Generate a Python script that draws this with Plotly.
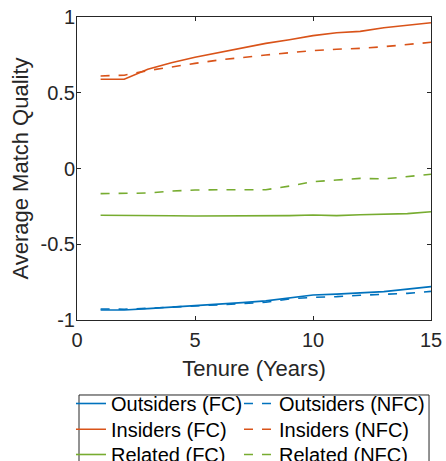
import plotly.graph_objects as go

tenure = list(range(1, 16))

outsiders_fc = [-0.934, -0.934, -0.925, -0.916, -0.905, -0.896, -0.885, -0.874, -0.852, -0.835, -0.829, -0.820, -0.813, -0.796, -0.780]
outsiders_nfc = [-0.927, -0.929, -0.923, -0.916, -0.907, -0.898, -0.892, -0.883, -0.861, -0.850, -0.846, -0.837, -0.833, -0.824, -0.811]
insiders_fc = [0.589, 0.589, 0.655, 0.698, 0.734, 0.764, 0.797, 0.826, 0.850, 0.877, 0.896, 0.905, 0.929, 0.945, 0.962]
insiders_nfc = [0.611, 0.616, 0.646, 0.672, 0.694, 0.716, 0.734, 0.749, 0.764, 0.778, 0.787, 0.793, 0.804, 0.817, 0.833]
related_fc = [-0.309, -0.309, -0.312, -0.312, -0.314, -0.313, -0.315, -0.312, -0.311, -0.307, -0.311, -0.305, -0.302, -0.298, -0.285]
related_nfc = [-0.166, -0.166, -0.162, -0.149, -0.142, -0.140, -0.140, -0.140, -0.116, -0.087, -0.076, -0.065, -0.069, -0.056, -0.038]

x_ticks = [0, 5, 10, 15]
y_ticks = [-1, -0.5, 0, 0.5, 1]
y_ticktext = ["-1", "-0.5", "0", "0.5", "1"]

BLUE = "#0072BD"
ORANGE = "#D95319"
GREEN = "#77AC30"

# (name, values, colour, dash, legend column, legend row)
series = [
    ("Outsiders (FC)", outsiders_fc, BLUE, "solid", 0, 0),
    ("Insiders (FC)", insiders_fc, ORANGE, "solid", 0, 1),
    ("Related (FC)", related_fc, GREEN, "solid", 0, 2),
    ("Outsiders (NFC)", outsiders_nfc, BLUE, "dash", 1, 0),
    ("Insiders (NFC)", insiders_nfc, ORANGE, "dash", 1, 1),
    ("Related (NFC)", related_nfc, GREEN, "dash", 1, 2),
]

axis_color = "#262626"
font_family = "Liberation Sans, Arial, sans-serif"
legend_font = dict(family=font_family, size=20, color="black")

col_x = [-0.017, 0.4576]
row_y = [-0.2112, -0.2960, -0.3795]

fig = go.Figure()
legends = {}
for i, (name, vals, color, dash, col, row) in enumerate(series):
    key = "legend" if i == 0 else f"legend{i + 1}"
    fig.add_trace(go.Scatter(x=tenure, y=vals, name=name, mode="lines", legend=key,
                             line=dict(color=color, width=1.6, dash=dash)))
    legends[key] = dict(
        orientation="v", x=col_x[col], xanchor="left", y=row_y[row], yanchor="top",
        bgcolor="rgba(0,0,0,0)", borderwidth=0, font=legend_font, itemwidth=30,
    )

fig.update_layout(
    width=446, height=461,
    margin=dict(l=77, r=15, t=17, b=141, autoexpand=False),
    plot_bgcolor="white", paper_bgcolor="white",
    font=dict(family=font_family, size=20, color=axis_color),
    showlegend=True,
    shapes=[dict(type="rect", xref="paper", yref="paper",
                 x0=0.00565, x1=0.9944, y0=-0.52, y1=-0.2475,
                 line=dict(color="#262626", width=1), fillcolor="rgba(0,0,0,0)",
                 layer="below")],
    xaxis=dict(
        range=[0, 15], tickvals=x_ticks, ticks="inside", ticklen=4,
        showline=True, mirror="ticks", linecolor=axis_color, linewidth=1,
        tickcolor=axis_color, showgrid=False, zeroline=False,
        ticklabelstandoff=2, ticklabeloverflow="allow",
        title=dict(text="Tenure (Years)", font=dict(size=22), standoff=10),
        tickfont=dict(size=20),
    ),
    yaxis=dict(
        range=[-1, 1], tickvals=y_ticks, ticktext=y_ticktext, ticks="inside", ticklen=4,
        showline=True, mirror="ticks", linecolor=axis_color, linewidth=1,
        tickcolor=axis_color, showgrid=False, zeroline=False,
        ticklabelstandoff=-3, ticklabeloverflow="allow",
        title=dict(text="Average Match Quality", font=dict(size=22), standoff=5),
        tickfont=dict(size=20),
    ),
    **legends,
)

fig.write_html("out.html", config={"displayModeBar": False},
               post_script="document.body.style.margin='0';")
